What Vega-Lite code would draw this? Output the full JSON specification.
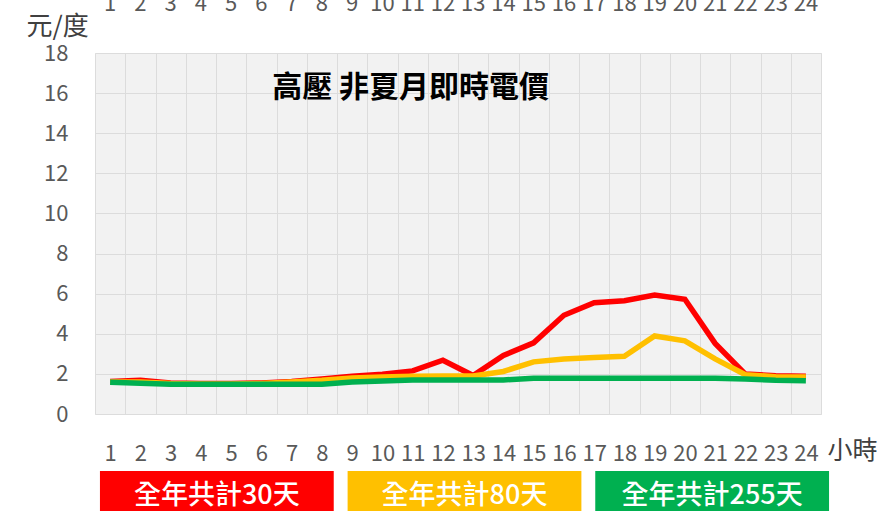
{
  "$schema": "https://vega.github.io/schema/vega-lite/v6.json",
  "background": "white",
  "padding": {"left": 25, "top": -9, "right": 0, "bottom": 0},
  "spacing": 6,
  "config": {"font": "Noto Sans CJK TC", "view": {"stroke": null}},
  "vconcat": [
    {
      "width": 726,
      "height": 361,
      "view": {"fill": "#f2f2f2", "stroke": "#e4e4e4"},
      "data": {"values": [
        {"hour": 1, "s": "30", "v": 1.62}, {"hour": 2, "s": "30", "v": 1.68}, {"hour": 3, "s": "30", "v": 1.55}, {"hour": 4, "s": "30", "v": 1.52},
        {"hour": 5, "s": "30", "v": 1.52}, {"hour": 6, "s": "30", "v": 1.55}, {"hour": 7, "s": "30", "v": 1.62}, {"hour": 8, "s": "30", "v": 1.75},
        {"hour": 9, "s": "30", "v": 1.88}, {"hour": 10, "s": "30", "v": 1.98}, {"hour": 11, "s": "30", "v": 2.15}, {"hour": 12, "s": "30", "v": 2.68},
        {"hour": 13, "s": "30", "v": 1.92}, {"hour": 14, "s": "30", "v": 2.92}, {"hour": 15, "s": "30", "v": 3.55}, {"hour": 16, "s": "30", "v": 4.92},
        {"hour": 17, "s": "30", "v": 5.55}, {"hour": 18, "s": "30", "v": 5.65}, {"hour": 19, "s": "30", "v": 5.93}, {"hour": 20, "s": "30", "v": 5.72},
        {"hour": 21, "s": "30", "v": 3.52}, {"hour": 22, "s": "30", "v": 1.99}, {"hour": 23, "s": "30", "v": 1.91}, {"hour": 24, "s": "30", "v": 1.88},
        {"hour": 1, "s": "80", "v": 1.6}, {"hour": 2, "s": "80", "v": 1.6}, {"hour": 3, "s": "80", "v": 1.52}, {"hour": 4, "s": "80", "v": 1.5},
        {"hour": 5, "s": "80", "v": 1.5}, {"hour": 6, "s": "80", "v": 1.52}, {"hour": 7, "s": "80", "v": 1.6}, {"hour": 8, "s": "80", "v": 1.68},
        {"hour": 9, "s": "80", "v": 1.8}, {"hour": 10, "s": "80", "v": 1.85}, {"hour": 11, "s": "80", "v": 1.88}, {"hour": 12, "s": "80", "v": 1.9},
        {"hour": 13, "s": "80", "v": 1.9}, {"hour": 14, "s": "80", "v": 2.12}, {"hour": 15, "s": "80", "v": 2.6}, {"hour": 16, "s": "80", "v": 2.74},
        {"hour": 17, "s": "80", "v": 2.82}, {"hour": 18, "s": "80", "v": 2.88}, {"hour": 19, "s": "80", "v": 3.89}, {"hour": 20, "s": "80", "v": 3.65},
        {"hour": 21, "s": "80", "v": 2.75}, {"hour": 22, "s": "80", "v": 1.96}, {"hour": 23, "s": "80", "v": 1.86}, {"hour": 24, "s": "80", "v": 1.84},
        {"hour": 1, "s": "255", "v": 1.58}, {"hour": 2, "s": "255", "v": 1.53}, {"hour": 3, "s": "255", "v": 1.48}, {"hour": 4, "s": "255", "v": 1.48},
        {"hour": 5, "s": "255", "v": 1.48}, {"hour": 6, "s": "255", "v": 1.48}, {"hour": 7, "s": "255", "v": 1.48}, {"hour": 8, "s": "255", "v": 1.48},
        {"hour": 9, "s": "255", "v": 1.6}, {"hour": 10, "s": "255", "v": 1.65}, {"hour": 11, "s": "255", "v": 1.69}, {"hour": 12, "s": "255", "v": 1.7},
        {"hour": 13, "s": "255", "v": 1.7}, {"hour": 14, "s": "255", "v": 1.7}, {"hour": 15, "s": "255", "v": 1.78}, {"hour": 16, "s": "255", "v": 1.78},
        {"hour": 17, "s": "255", "v": 1.78}, {"hour": 18, "s": "255", "v": 1.78}, {"hour": 19, "s": "255", "v": 1.78}, {"hour": 20, "s": "255", "v": 1.78},
        {"hour": 21, "s": "255", "v": 1.78}, {"hour": 22, "s": "255", "v": 1.75}, {"hour": 23, "s": "255", "v": 1.68}, {"hour": 24, "s": "255", "v": 1.66}
      ]},
      "layer": [
        {
          "mark": {"type": "line", "opacity": 0},
          "encoding": {
            "x": {"field": "hour", "type": "ordinal", "scale": {"type": "band", "paddingInner": 0, "paddingOuter": 0},
                  "axis": {"orient": "top", "labelPadding": 38, "ticks": false, "tickSize": 0, "domain": false, "grid": false, "title": null, "labelAngle": 0, "labelFontSize": 22, "labelColor": "#595959", "labelOverlap": false}},
            "y": {"field": "v", "type": "quantitative", "scale": {"domain": [0, 18], "nice": false},
                  "axis": {"values": [0, 2, 4, 6, 8, 10, 12, 14, 16, 18], "grid": true, "gridColor": "#dcdcdc", "ticks": false, "tickSize": 0, "domain": false, "labelPadding": 27, "labelFontSize": 22, "labelColor": "#595959",
                           "title": "元/度", "titleAngle": 0, "titleX": -69, "titleY": -27, "titleAlign": "left", "titleBaseline": "middle", "titleFontSize": 26, "titleFontWeight": "normal", "titleColor": "#404040"}},
            "detail": {"field": "s", "type": "nominal"}
          }
        },
        {
          "mark": {"type": "line", "strokeWidth": 5.5},
          "encoding": {
            "x": {"field": "hour", "type": "ordinal", "scale": {"type": "band", "paddingInner": 0, "paddingOuter": 0},
                  "axis": {"orient": "bottom", "tickBand": "extent", "grid": true, "gridColor": "#dcdcdc", "ticks": false, "tickSize": 0, "domain": false, "labelAngle": 0, "labelPadding": 29, "labelFontSize": 22, "labelColor": "#595959", "labelOverlap": false,
                           "title": "小時", "titleX": 732, "titleY": 36, "titleAlign": "left", "titleBaseline": "middle", "titleFontSize": 25, "titleFontWeight": "normal", "titleColor": "#404040"}},
            "y": {"field": "v", "type": "quantitative", "scale": {"domain": [0, 18], "nice": false},
                  "axis": {"values": [0, 2, 4, 6, 8, 10, 12, 14, 16, 18], "grid": true, "gridColor": "#dcdcdc", "ticks": false, "tickSize": 0, "domain": false, "labelPadding": 27, "labelFontSize": 22, "labelColor": "#595959",
                           "title": "元/度", "titleAngle": 0, "titleX": -69, "titleY": -27, "titleAlign": "left", "titleBaseline": "middle", "titleFontSize": 26, "titleFontWeight": "normal", "titleColor": "#404040"}},
            "color": {"field": "s", "type": "nominal", "scale": {"domain": ["30", "80", "255"], "range": ["#ff0000", "#ffc000", "#00b050"]}, "legend": null}
          }
        },
        {
          "data": {"values": [{"t": "高壓 非夏月即時電價"}]},
          "mark": {"type": "text", "fontSize": 30, "fontWeight": "bold", "color": "#000000", "align": "center", "baseline": "middle", "dx": -2, "font": "Noto Sans CJK TC"},
          "encoding": {
            "x": {"datum": 11, "type": "ordinal", "axis": null},
            "y": {"datum": 16.25, "type": "quantitative"},
            "text": {"field": "t"}
          }
        }
      ],
      "resolve": {"axis": {"x": "independent"}}
    },
    {
      "width": 739,
      "height": 50,
      "data": {"values": [
        {"label": "全年共計30天", "s": "30"},
        {"label": "全年共計80天", "s": "80"},
        {"label": "全年共計255天", "s": "255"}
      ]},
      "layer": [
        {
          "mark": {"type": "rect"},
          "encoding": {
            "x": {"field": "label", "type": "nominal", "sort": null, "scale": {"type": "band", "paddingInner": 0.056, "paddingOuter": 0.02}, "axis": null},
            "color": {"field": "s", "type": "nominal", "scale": {"domain": ["30", "80", "255"], "range": ["#ff0000", "#ffc000", "#00b050"]}, "legend": null}
          }
        },
        {
          "mark": {"type": "text", "color": "white", "fontSize": 27, "fontWeight": 500, "baseline": "middle", "font": "Noto Sans CJK TC"},
          "encoding": {
            "x": {"field": "label", "type": "nominal", "sort": null, "scale": {"type": "band", "paddingInner": 0.056, "paddingOuter": 0.02}, "axis": null},
            "text": {"field": "label"}
          }
        }
      ]
    }
  ]
}
